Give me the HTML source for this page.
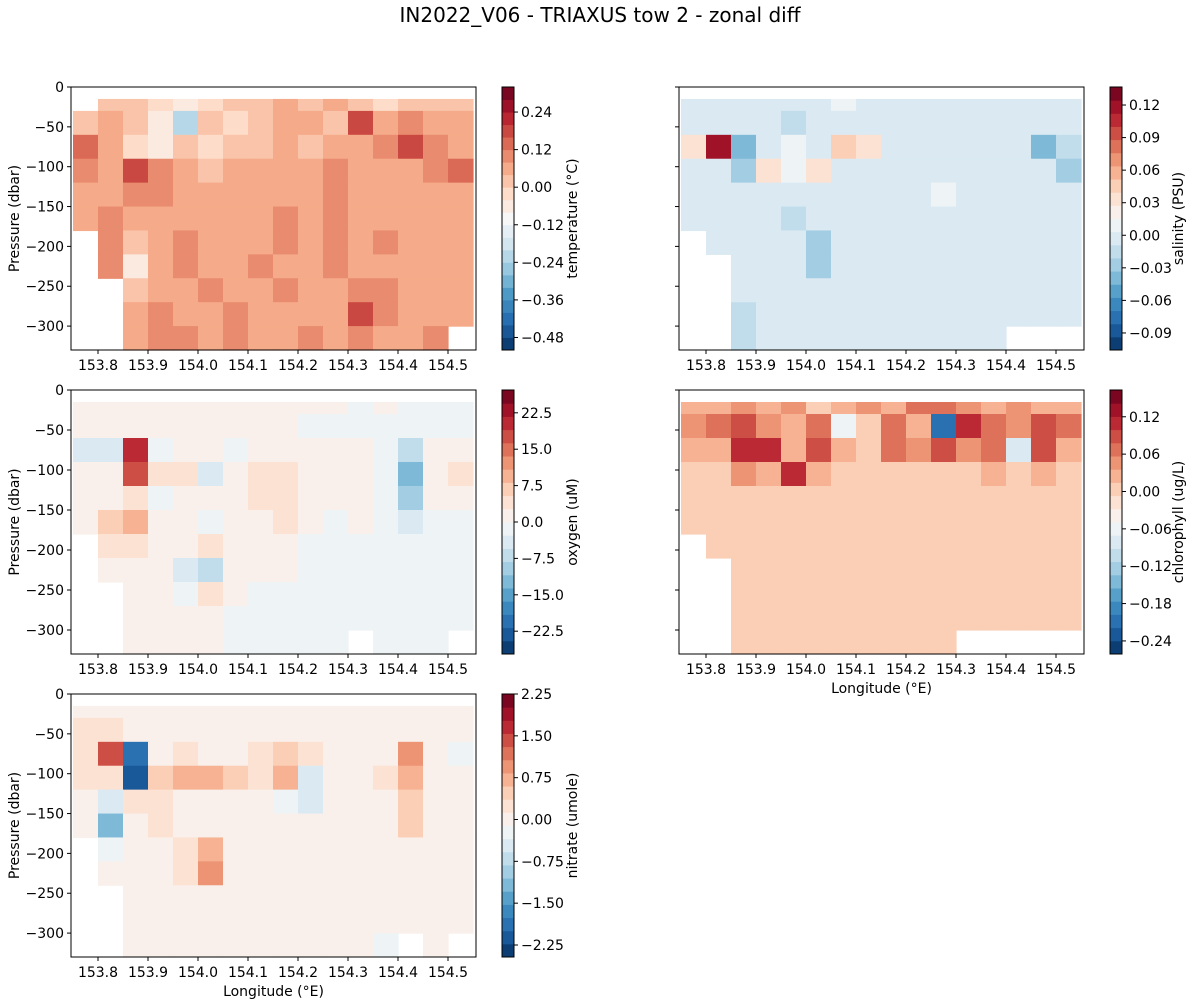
<!DOCTYPE html>
<html><head><meta charset="utf-8"><style>
html,body{margin:0;padding:0;background:#fff;}
svg{display:block;font-family:"DejaVu Sans","Liberation Sans",sans-serif;}
</style></head><body>
<svg id="fig" width="1198" height="1007" viewBox="0 0 1198 1007" xmlns="http://www.w3.org/2000/svg">
<rect width="1198" height="1007" fill="#fff"/>
<text x="600" y="22" font-size="20" text-anchor="middle" fill="#000">IN2022_V06 - TRIAXUS tow 2 - zonal diff</text>
</svg>
<script>
// ---- data ----
const lonEdges0 = 153.75, lonStep = 0.05;      // grid columns
const presTop = -15, presStep = 30;            // grid rows
const xTicks = [153.8,153.9,154.0,154.1,154.2,154.3,154.4,154.5];
const yTicks = [0,-50,-100,-150,-200,-250,-300];

const tempGrid = [
[null,0.02,0.02,-0.02,-0.06,-0.02,0.02,0.02,0.04,0.02,0.04,0.02,-0.02,0.02,0.02,0.02],
[0.02,0.04,0.02,-0.06,-0.22,0.02,-0.02,0.02,0.04,0.04,0.02,0.18,0.06,0.1,0.04,0.04],
[0.12,0.04,-0.02,-0.06,0.02,-0.02,0.02,0.02,0.04,0.02,0.04,0.06,0.08,0.16,0.08,0.04],
[0.1,0.06,0.16,0.08,0.06,0.02,0.04,0.04,0.06,0.04,0.08,0.04,0.06,0.06,0.08,0.12],
[0.06,0.04,0.1,0.1,0.06,0.06,0.06,0.04,0.06,0.06,0.1,0.06,0.06,0.06,0.04,0.06],
[0.06,0.1,0.04,0.04,0.06,0.06,0.06,0.06,0.1,0.06,0.1,0.06,0.06,0.04,0.06,0.06],
[null,0.1,0.0,0.06,0.1,0.06,0.04,0.06,0.1,0.06,0.1,0.06,0.1,0.06,0.04,0.06],
[null,0.1,-0.06,0.06,0.1,0.06,0.06,0.1,0.06,0.04,0.1,0.06,0.06,0.06,0.06,0.06],
[null,null,0.0,0.06,0.06,0.1,0.06,0.06,0.1,0.06,0.06,0.1,0.1,0.06,0.06,0.04],
[null,null,0.04,0.1,0.06,0.06,0.1,0.06,0.06,0.06,0.06,0.16,0.1,0.06,0.06,0.06],
[null,null,0.06,0.1,0.1,0.06,0.1,0.06,0.06,0.1,0.06,0.1,0.06,0.06,0.1,null]];
const salGrid = [
[0,0,0,0,0,0,0.015,0,0,0,0,0,0,0,0,0],
[0,0,0,0,-0.02,0,0,0,0,0,0,0,0,0,0,0],
[0.03,0.12,-0.04,0,0.015,0,0.05,0.03,0,0,0,0,0,0,-0.04,-0.02],
[0,0,-0.03,0.03,0.015,0.03,0,0,0,0,0,0,0,0,0,-0.03],
[0,0,0,0,0,0,0,0,0,0,0.015,0,0,0,0,0],
[0,0,0,0,-0.02,0,0,0,0,0,0,0,0,0,0,0],
[null,0,0,0,0,-0.03,0,0,0,0,0,0,0,0,0,0],
[null,null,0,0,0,-0.03,0,0,0,0,0,0,0,0,0,0],
[null,null,0,0,0,0,0,0,0,0,0,0,0,0,0,0],
[null,null,-0.02,0,0,0,0,0,0,0,0,0,0,0,0,0],
[null,null,-0.02,0,0,0,0,0,0,0,0,0,0,null,null,null]];
const oxyGrid = [
[0,1,1,1,1,1,1,1,1,1,1,-1,1,-1,-1,-1],
[1,1,1,1,1,1,1,1,1,-1,-1,-1,-1,-1,-1,-1],
[-3,-5,20,-1,1,1,-1,1,1,1,1,1,-1,-8,1,1],
[1,1,18,5,3,-5,1,5,3,1,1,1,-1,-12,1,4],
[1,1,3,-1,1,1,1,5,3,1,1,1,-1,-10,1,1],
[1,6,10,1,1,-1,1,1,3,1,-1,1,-1,-4,-1,-1],
[null,5,3,1,1,5,1,1,1,-1,-1,-1,-1,-1,-1,-1],
[null,1,1,1,-5,-8,1,1,1,-1,-1,-1,-1,-1,-1,-1],
[null,null,1,1,-1,3,1,-1,-1,-1,-1,-1,-1,-1,-1,-1],
[null,null,1,1,1,1,-1,-1,-1,-1,-1,-1,-1,-1,-1,-1],
[null,null,1,1,1,1,-1,-1,-1,-1,-1,null,-1,-1,-1,null]];
const chlGrid = [
[0.02,0.02,0.04,0.02,0.04,0.0,0.02,0.04,0.02,0.06,0.06,0.04,0.02,0.04,0.02,0.02],
[0.04,0.06,0.08,0.04,0.02,0.06,-0.06,0.0,0.06,0.02,-0.2,0.12,0.06,0.04,0.08,0.06],
[0.02,0.02,0.1,0.1,0.02,0.08,0.02,0.0,0.06,0.04,0.08,0.04,0.06,-0.08,0.08,0.02],
[0.0,0.0,0.04,0.02,0.1,0.02,0.0,0.0,0.0,0.0,0.0,0.0,0.02,0.0,0.02,0.0],
[0,0,0,0,0,0,0,0,0,0,0,0,0,0,0,0],
[0,0,0,0,0,0,0,0,0,0,0,0,0,0,0,0],
[null,0,0,0,0,0,0,0,0,0,0,0,0,0,0,0],
[null,null,0,0,0,0,0,0,0,0,0,0,0,0,0,0],
[null,null,0,0,0,0,0,0,0,0,0,0,0,0,0,0],
[null,null,0,0,0,0,0,0,0,0,0,0,0,0,0,0],
[null,null,0,0,0,0,0,0,0,0,0,null,null,null,null,null]];
const nitGrid = [
[0.1,0.1,0.1,0.1,0.1,0.1,0.1,0.1,0.1,0.1,0.1,0.1,0.1,0.1,0.1,0.1],
[0.3,0.3,0.1,0.1,0.1,0.1,0.1,0.1,0.1,0.1,0.1,0.1,0.1,0.1,0.1,0.1],
[0.3,1.5,-1.8,0.1,0.3,0.1,0.1,0.3,0.5,0.3,0.1,0.1,0.1,1.0,0.1,-0.3],
[0.3,0.3,-2.0,0.5,0.8,0.8,0.5,0.3,0.8,-0.5,0.1,0.1,0.3,0.8,0.1,0.1],
[0.1,-0.5,0.3,0.3,0.1,0.1,0.1,0.1,-0.2,-0.5,0.1,0.1,0.1,0.5,0.1,0.1],
[0.1,-1.2,0.1,0.3,0.1,0.1,0.1,0.1,0.1,0.1,0.1,0.1,0.1,0.5,0.1,0.1],
[null,-0.3,0.1,0.1,0.3,0.8,0.1,0.1,0.1,0.1,0.1,0.1,0.1,0.1,0.1,0.1],
[null,0.1,0.1,0.1,0.3,1.0,0.1,0.1,0.1,0.1,0.1,0.1,0.1,0.1,0.1,0.1],
[null,null,0.1,0.1,0.1,0.1,0.1,0.1,0.1,0.1,0.1,0.1,0.1,0.1,0.1,0.1],
[null,null,0.1,0.1,0.1,0.1,0.1,0.1,0.1,0.1,0.1,0.1,0.1,0.1,0.1,0.1],
[null,null,0.1,0.1,0.1,0.1,0.1,0.1,0.1,0.1,0.1,0.1,-0.2,null,0.1,null]];

const tempTicks = [-0.48,-0.36,-0.24,-0.12,0.00,0.12,0.24];
const salTicks = [-0.09,-0.06,-0.03,0.00,0.03,0.06,0.09,0.12];
const oxyTicks = [-22.5,-15.0,-7.5,0.0,7.5,15.0,22.5];
const chlTicks = [-0.24,-0.18,-0.12,-0.06,0.00,0.06,0.12];
const nitTicks = [-2.25,-1.50,-0.75,0.00,0.75,1.50,2.25];

// ---- rendering ----
const NS="http://www.w3.org/2000/svg";
const svg=document.getElementById('fig');
function mk(tag,attrs,parent){const e=document.createElementNS(NS,tag);for(const k in attrs)e.setAttribute(k,attrs[k]);(parent||svg).appendChild(e);return e;}
const stops=[[0,[5,48,97]],[0.1,[33,102,172]],[0.2,[67,147,195]],[0.3,[146,197,222]],[0.4,[209,229,240]],[0.5,[247,247,247]],[0.6,[253,219,199]],[0.7,[244,165,130]],[0.8,[214,96,77]],[0.9,[178,24,43]],[1,[103,0,31]]];
function cmap(t){t=Math.max(0,Math.min(1,t));for(let i=1;i<stops.length;i++){if(t<=stops[i][0]){const a=stops[i-1],b=stops[i];const f=(t-a[0])/(b[0]-a[0]);const c=a[1].map((v,j)=>Math.round(v+(b[1][j]-v)*f));return `rgb(${c[0]},${c[1]},${c[2]})`;}}return 'rgb(103,0,31)';}

const panels=[
 {name:'temperature',grid:tempGrid,ticks:tempTicks,min:-0.52,max:0.32,n:21,dec:2,label:'temperature (°C)',x0:71,x1:476,y0:87,y1:350,cbx:502,lblx:577,ylabels:true,xlabel:false},
 {name:'salinity',grid:salGrid,ticks:salTicks,min:-0.1057,max:0.1366,n:20,dec:2,label:'salinity (PSU)',x0:679,x1:1084,y0:87,y1:350,cbx:1110,lblx:1183,ylabels:false,xlabel:false},
 {name:'oxygen',grid:oxyGrid,ticks:oxyTicks,min:-27.2,max:27.2,n:20,dec:1,label:'oxygen (uM)',x0:71,x1:476,y0:390,y1:654,cbx:502,lblx:577,ylabels:true,xlabel:false},
 {name:'chlorophyll',grid:chlGrid,ticks:chlTicks,min:-0.261,max:0.163,n:20,dec:2,label:'chlorophyll (ug/L)',x0:679,x1:1084,y0:390,y1:654,cbx:1110,lblx:1183,ylabels:false,xlabel:true},
 {name:'nitrate',grid:nitGrid,ticks:nitTicks,min:-2.465,max:2.25,n:20,dec:2,label:'nitrate (umole)',x0:71,x1:476,y0:694,y1:957,cbx:502,lblx:577,ylabels:true,xlabel:true}
];
const lonMin=153.746, lonMax=154.556, pMax=0, pMin=-330;

panels.forEach(P=>{
 const g=mk('g',{});
 
 
 const sx=v=>P.x0+(v-lonMin)/(lonMax-lonMin)*(P.x1-P.x0);
 const sy=v=>P.y0+(pMax-v)/(pMax-pMin)*(P.y1-P.y0);
 const band=v=>{let i=Math.floor((v-P.min)/(P.max-P.min)*P.n+1e-9);i=Math.max(0,Math.min(P.n-1,i));return cmap((i+0.5)/P.n);};
 const cells=mk('g',{},g);
 
 
 P.grid.forEach((row,r)=>{
  const pa=r===0?presTop:-r*presStep, pb=-(r+1)*presStep;
  row.forEach((v,c)=>{
   if(v===null)return;
   const la=lonEdges0+c*lonStep, lb=la+lonStep;
   const xa=sx(la), xb=Math.min(sx(lb),P.x1), ya=sy(pa), yb=Math.min(sy(pb),P.y1);
   const rc=mk('rect',{x:xa.toFixed(2),y:ya.toFixed(2),width:(xb-xa+0.6).toFixed(2),height:(yb-ya+0.6).toFixed(2),fill:band(v)},cells);
   
   
  });
 });
 const fr=mk('rect',{x:P.x0,y:P.y0,width:P.x1-P.x0,height:P.y1-P.y0,fill:'none',stroke:'#000','stroke-width':1},g);
 
 
 xTicks.forEach(t=>{
  const x=sx(t);
  mk('line',{x1:x,x2:x,y1:P.y1,y2:P.y1+4,stroke:'#000'},g);
  const tx=mk('text',{x:x,y:P.y1+20,'font-size':14,'text-anchor':'middle'},g);
  tx.textContent=t.toFixed(1);
  
  
 });
 yTicks.forEach(t=>{
  const y=sy(t);
  mk('line',{x1:P.x0-4,x2:P.x0,y1:y,y2:y,stroke:'#000'},g);
  if(P.ylabels){
   const tx=mk('text',{x:P.x0-7,y:y+5,'font-size':14,'text-anchor':'end'},g);
   tx.textContent=t===0?'0':'\u2212'+Math.abs(t);
   
   
  }
 });
 if(P.ylabels){
  const yl=mk('text',{x:0,y:0,'font-size':14,'text-anchor':'middle',transform:`translate(19,${(P.y0+P.y1)/2}) rotate(-90)`},g);
  yl.textContent='Pressure (dbar)';
  
  
 }
 if(P.xlabel){
  const xl=mk('text',{x:(P.x0+P.x1)/2,y:P.y1+39,'font-size':14,'text-anchor':'middle'},g);
  xl.textContent='Longitude (°E)';
  
  
 }
 const cb=mk('g',{},g);
 
 
 const cw=12, ch=P.y1-P.y0;
 for(let i=0;i<P.n;i++){
  const yT=P.y0+ch*(P.n-1-i)/P.n;
  mk('rect',{x:P.cbx,y:yT.toFixed(2),width:cw,height:(ch/P.n+0.5).toFixed(2),fill:cmap((i+0.5)/P.n)},cb);
 }
 mk('rect',{x:P.cbx,y:P.y0,width:cw,height:ch,fill:'none',stroke:'#000','stroke-width':1},cb);
 P.ticks.forEach(t=>{
  const y=P.y0+(P.max-t)/(P.max-P.min)*ch;
  mk('line',{x1:P.cbx+cw,x2:P.cbx+cw+4,y1:y,y2:y,stroke:'#000'},cb);
  const tx=mk('text',{x:P.cbx+cw+7,y:y+5,'font-size':14},cb);
  tx.textContent=(t<0?'\u2212':'')+Math.abs(t).toFixed(P.dec);
  
  
 });
 const cl=mk('text',{x:0,y:0,'font-size':14,'text-anchor':'middle',transform:`translate(${P.lblx},${(P.y0+P.y1)/2}) rotate(-90)`},cb);
 cl.textContent=P.label;
 
 
});
</script>
</body></html>
